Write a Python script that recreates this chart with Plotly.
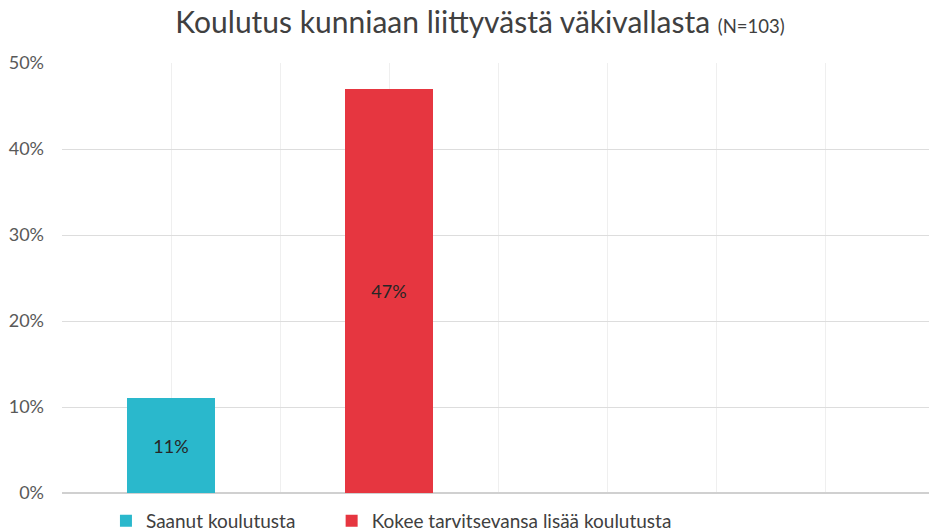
import plotly.graph_objects as go

series_names = ["Saanut koulutusta", "Kokee tarvitsevansa lisää koulutusta"]
series_values = [11, 47]
series_positions = [1, 3]
series_colors = ["#2AB8CC", "#E63640"]
y_ticks = [0, 10, 20, 30, 40, 50]
y_tick_labels = ["0%", "10%", "20%", "30%", "40%", "50%"]

FONT = "Lato"
legend_ids = ["legend", "legend2"]
legend_x = [0.0507, 0.311]

fig = go.Figure()
for name, val, pos, col, lg in zip(series_names, series_values, series_positions, series_colors, legend_ids):
    fig.add_trace(go.Bar(
        x=[pos], y=[val], name=name, width=0.8,
        marker=dict(color=col, line=dict(width=0)),
        text=[f"{val}%"], textposition="inside", insidetextanchor="middle",
        textfont=dict(family=FONT, size=18, color="#262626"),
        hoverinfo="skip", legend=lg,
    ))

legend_common = dict(
    orientation="h", xanchor="left", yref="container", y=0.021, yanchor="middle",
    itemwidth=30, font=dict(family=FONT, size=19, color="#404040"),
    bgcolor="rgba(0,0,0,0)",
)

fig.update_layout(
    width=929, height=532,
    margin=dict(l=62, r=0, t=63, b=39, autoexpand=False),
    paper_bgcolor="white", plot_bgcolor="white",
    title=dict(
        text="Koulutus kunniaan liittyvästä väkivallasta <span style='font-size:18.5px'>(N=103)</span>",
        x=0.5167, xanchor="center", y=0.958, yanchor="middle",
        font=dict(family=FONT, size=30, color="#404040"),
    ),
    showlegend=True,
    legend=dict(x=legend_x[0], **legend_common),
    legend2=dict(x=legend_x[1], **legend_common),
    xaxis=dict(
        range=[0, 7.954], tickmode="linear", tick0=0, dtick=1,
        showticklabels=False, showgrid=True, gridcolor="#EFEFEF", gridwidth=1,
        zeroline=False, showline=False, fixedrange=True,
    ),
    yaxis=dict(
        range=[0, 50], tickvals=y_ticks, ticktext=y_tick_labels,
        showgrid=True, gridcolor="#DDDDDD", gridwidth=1,
        zeroline=True, zerolinecolor="#D0D0D0", zerolinewidth=1.5,
        tickfont=dict(family=FONT, size=18, color="#595959"),
        ticks="", ticklabelstandoff=17, showline=False,
    ),
    bargap=0,
)

fig.write_html("out.html")
